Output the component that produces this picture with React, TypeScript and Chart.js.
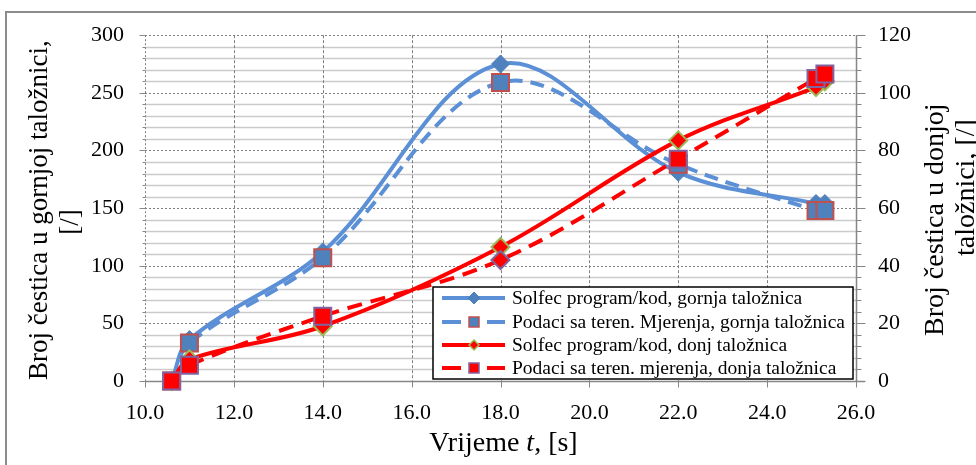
import React, { useEffect, useRef } from 'react';
import { Chart, registerables } from 'chart.js';

Chart.register(...registerables);

// Time points [s]
const timeSolfecGornja = [10.6, 11.0, 14.0, 18.0, 22.0, 25.1, 25.3];
const timeMjerenjaGornja = [10.6, 11.0, 14.0, 18.0, 22.0, 25.1, 25.3];
const timeSolfecDonja = [10.6, 11.0, 14.0, 18.0, 22.0, 25.1, 25.3];
const timeMjerenjaDonja = [10.6, 11.0, 14.0, 18.0, 22.0, 25.1, 25.3];

// Left axis values (gornja taložnica)
const solfecGornja = [0, 36, 112, 275, 181, 154, 154];
const mjerenjaGornja = [0, 33, 107, 259, 188, 148, 148];
// Right axis values (donja taložnica)
const solfecDonja = [0, 7.5, 19, 46.5, 83.5, 102, 104];
const mjerenjaDonja = [0, 5.5, 22.5, 42, 77, 105, 106.5];

const legendLabels = [
  'Solfec program/kod, gornja taložnica',
  'Podaci sa teren. Mjerenja, gornja taložnica',
  'Solfec program/kod, donj taložnica',
  'Podaci sa teren. mjerenja, donja taložnica',
];

const xTitleParts = ['Vrijeme ', 't', ', [s]'];
const leftTitle = ['Broj čestica u gornjoj taložnici,', '[/]'];
const rightTitle = ['Broj čestica u donjoj', 'taložnici, [/]'];

const SERIF = '"Liberation Serif", "Times New Roman", serif';
const BLUE_LINE = '#5B8FD6';
const BLUE_MARK = '#4F81BD';
const RED = '#FF0000';

const zip = (xs: number[], ys: number[]) => xs.map((x, i) => ({ x, y: ys[i] }));

function drawMarker(ctx: CanvasRenderingContext2D, style: string, x: number, y: number, r: number, fill: string, stroke: string, lw: number) {
  ctx.save();
  ctx.beginPath();
  if (style === 'rect') {
    ctx.rect(x - r, y - r, 2 * r, 2 * r);
  } else {
    ctx.moveTo(x - r, y);
    ctx.lineTo(x, y - r);
    ctx.lineTo(x + r, y);
    ctx.lineTo(x, y + r);
    ctx.closePath();
  }
  ctx.fillStyle = fill;
  ctx.fill();
  ctx.lineWidth = lw;
  ctx.strokeStyle = stroke;
  ctx.stroke();
  ctx.restore();
}

const decorPlugin = {
  id: 'decor',
  beforeDatasetsDraw(chart: any) {
    const { ctx, chartArea: a, scales } = chart;
    const xs = scales.x;
    const ys = scales.y;
    ctx.save();
    // minor horizontal grid
    for (let v = 10; v < 300; v += 10) {
      if (v % 50 === 0) continue;
      const py = Math.round(ys.getPixelForValue(v)) + 0.5;
      ctx.beginPath();
      ctx.strokeStyle = '#CBCBCB';
      ctx.lineWidth = 1.5;
      ctx.setLineDash([]);
      ctx.moveTo(a.left, py);
      ctx.lineTo(a.right, py);
      ctx.stroke();
    }
    // major horizontal grid (dotted)
    for (let v = 50; v <= 300; v += 50) {
      const py = Math.round(ys.getPixelForValue(v)) + 0.5;
      ctx.beginPath();
      ctx.strokeStyle = '#7F7F7F';
      ctx.lineWidth = 1;
      ctx.setLineDash([2, 2]);
      ctx.moveTo(a.left, py);
      ctx.lineTo(a.right, py);
      ctx.stroke();
    }
    // vertical grid (dotted)
    for (let t = 12; t < 26; t += 2) {
      const px = Math.round(xs.getPixelForValue(t)) + 0.5;
      ctx.beginPath();
      ctx.strokeStyle = '#7F7F7F';
      ctx.lineWidth = 1;
      ctx.setLineDash([3, 2]);
      ctx.moveTo(px, a.top);
      ctx.lineTo(px, a.bottom);
      ctx.stroke();
    }
    // left axis (dotted) with small ticks
    const lx = Math.round(a.left) + 0.5;
    ctx.beginPath();
    ctx.setLineDash([2, 2]);
    ctx.strokeStyle = '#7F7F7F';
    ctx.moveTo(lx, a.top);
    ctx.lineTo(lx, a.bottom);
    ctx.stroke();
    ctx.setLineDash([]);
    for (let v = 0; v <= 300; v += 10) {
      const py = Math.round(ys.getPixelForValue(v)) + 0.5;
      ctx.beginPath();
      ctx.strokeStyle = '#8A8A8A';
      ctx.moveTo(lx - (v % 50 === 0 ? 6 : 3), py);
      ctx.lineTo(lx, py);
      ctx.stroke();
    }
    // right axis (solid) with outward ticks
    const rx = Math.round(a.right) + 0.5;
    ctx.beginPath();
    ctx.strokeStyle = '#868686';
    ctx.lineWidth = 1.5;
    ctx.moveTo(rx, a.top);
    ctx.lineTo(rx, a.bottom);
    ctx.stroke();
    ctx.lineWidth = 1;
    for (let v = 0; v <= 300; v += 10) {
      const py = Math.round(ys.getPixelForValue(v)) + 0.5;
      ctx.beginPath();
      ctx.moveTo(rx, py);
      ctx.lineTo(rx + (v % 50 === 0 ? 9 : 5), py);
      ctx.stroke();
    }
    // x axis (solid) with ticks
    const by = Math.round(a.bottom) + 0.5;
    ctx.beginPath();
    ctx.strokeStyle = '#868686';
    ctx.lineWidth = 1.5;
    ctx.moveTo(a.left, by);
    ctx.lineTo(a.right + 9, by);
    ctx.stroke();
    ctx.lineWidth = 1;
    for (let t = 10; t <= 26; t += 2) {
      const px = Math.round(xs.getPixelForValue(t)) + 0.5;
      ctx.beginPath();
      ctx.moveTo(px, by);
      ctx.lineTo(px, by + 6);
      ctx.stroke();
    }
    ctx.restore();
  },
  afterDraw(chart: any) {
    const { ctx, chartArea: a } = chart;
    ctx.save();
    // outer border
    ctx.strokeStyle = '#8C8C8C';
    ctx.lineWidth = 2;
    ctx.strokeRect(6, 12, 985, 470);

    ctx.fillStyle = '#000';
    // x title with italic t
    const normal = `28px ${SERIF}`;
    const italic = `italic 28px ${SERIF}`;
    ctx.font = normal;
    const w0 = ctx.measureText(xTitleParts[0]).width;
    const w2 = ctx.measureText(xTitleParts[2]).width;
    ctx.font = italic;
    const w1 = ctx.measureText(xTitleParts[1]).width;
    const total = w0 + w1 + w2;
    let sx = (a.left + a.right) / 2 + 3 - total / 2;
    const ty = 451;
    ctx.textBaseline = 'alphabetic';
    ctx.textAlign = 'left';
    ctx.font = normal;
    ctx.fillText(xTitleParts[0], sx, ty);
    sx += w0;
    ctx.font = italic;
    ctx.fillText(xTitleParts[1], sx, ty);
    sx += w1;
    ctx.font = normal;
    ctx.fillText(xTitleParts[2], sx, ty);

    // left title
    const cy = (a.top + a.bottom) / 2 + 2;
    ctx.font = `27px ${SERIF}`;
    ctx.textAlign = 'center';
    [47, 78].forEach((bx, i) => {
      ctx.save();
      ctx.translate(bx, i === 0 ? cy : cy + 12);
      ctx.rotate(-Math.PI / 2);
      ctx.fillText(leftTitle[i], 0, 0);
      ctx.restore();
    });
    // right title
    ctx.font = `28px ${SERIF}`;
    ctx.textAlign = 'left';
    [[943, 336], [974, 256]].forEach(([bx, by], i) => {
      ctx.save();
      ctx.translate(bx, by);
      ctx.rotate(-Math.PI / 2);
      ctx.fillText(rightTitle[i], 0, 0);
      ctx.restore();
    });

    // legend
    const L = 433, T = 287, R = 853, B = 379;
    ctx.fillStyle = '#fff';
    ctx.fillRect(L, T, R - L, B - T);
    ctx.strokeStyle = '#000';
    ctx.lineWidth = 1.5;
    ctx.strokeRect(L, T, R - L, B - T);
    const rows = [298, 322, 345, 368];
    const specs = [
      { color: BLUE_LINE, dashed: false, style: 'rectRot', r: 6, fill: BLUE_MARK, stroke: BLUE_MARK, lw: 1 },
      { color: BLUE_LINE, dashed: true, style: 'rect', r: 5, fill: BLUE_MARK, stroke: '#C0504D', lw: 1.5 },
      { color: RED, dashed: false, style: 'rectRot', r: 5, fill: RED, stroke: '#9BBB59', lw: 1.5 },
      { color: RED, dashed: true, style: 'rect', r: 5, fill: RED, stroke: '#8064A2', lw: 1.5 },
    ];
    specs.forEach((s, i) => {
      const y = rows[i];
      ctx.strokeStyle = s.color;
      ctx.lineWidth = 4;
      ctx.lineCap = 'butt';
      ctx.beginPath();
      if (s.dashed) {
        ctx.moveTo(442, y); ctx.lineTo(461, y);
        ctx.moveTo(487, y); ctx.lineTo(505, y);
      } else {
        ctx.moveTo(442, y); ctx.lineTo(505, y);
      }
      ctx.stroke();
      drawMarker(ctx, s.style, 474, y, s.r, s.fill, s.stroke, s.lw);
      ctx.fillStyle = '#000';
      ctx.font = `19.5px ${SERIF}`;
      ctx.textAlign = 'left';
      ctx.textBaseline = 'middle';
      ctx.fillText(legendLabels[i], 512, y + 1);
    });
    ctx.restore();
  },
};

export default function App() {
  const ref = useRef<HTMLCanvasElement>(null);
  useEffect(() => {
    document.body.style.margin = '0';
    const canvas = ref.current!;
    const tickFont = { family: SERIF, size: 22 };
    const chart = new Chart(canvas, {
      type: 'line',
      data: {
        datasets: [
          {
            label: legendLabels[0],
            data: zip(timeSolfecGornja, solfecGornja),
            yAxisID: 'y',
            borderColor: BLUE_LINE,
            borderWidth: 4,
            tension: 0.35,
            pointStyle: 'rectRot',
            pointRadius: 9,
            pointBackgroundColor: BLUE_MARK,
            pointBorderColor: BLUE_MARK,
            pointBorderWidth: 1,
            clip: false as any,
            order: 4,
          },
          {
            label: legendLabels[1],
            data: zip(timeMjerenjaGornja, mjerenjaGornja),
            yAxisID: 'y',
            borderColor: BLUE_LINE,
            borderWidth: 4,
            borderDash: [14, 8],
            tension: 0.35,
            pointStyle: 'rect',
            pointRadius: 12,
            pointBackgroundColor: BLUE_MARK,
            pointBorderColor: '#C0504D',
            pointBorderWidth: 2,
            clip: false as any,
            order: 3,
          },
          {
            label: legendLabels[2],
            data: zip(timeSolfecDonja, solfecDonja),
            yAxisID: 'y1',
            borderColor: RED,
            borderWidth: 4,
            tension: 0.35,
            pointStyle: 'rectRot',
            pointRadius: 9,
            pointBackgroundColor: RED,
            pointBorderColor: '#9BBB59',
            pointBorderWidth: 2,
            clip: false as any,
            order: 2,
          },
          {
            label: legendLabels[3],
            data: zip(timeMjerenjaDonja, mjerenjaDonja),
            yAxisID: 'y1',
            borderColor: RED,
            borderWidth: 4,
            borderDash: [15, 9],
            tension: 0.35,
            pointStyle: ['rect', 'rect', 'rect', 'rectRot', 'rect', 'rect', 'rect'],
            pointRadius: [12, 12, 12, 9, 12, 12, 12],
            pointBackgroundColor: RED,
            pointBorderColor: '#8064A2',
            pointBorderWidth: 2,
            clip: false as any,
            order: 1,
          },
        ],
      },
      options: {
        responsive: false,
        maintainAspectRatio: false,
        animation: false,
        devicePixelRatio: 1,
        layout: { padding: { top: 33, left: 0, right: 0, bottom: 0 } },
        plugins: { legend: { display: false }, tooltip: { enabled: false } },
        scales: {
          x: {
            type: 'linear',
            min: 10,
            max: 26,
            ticks: { stepSize: 2, callback: (v: any) => Number(v).toFixed(1), font: tickFont, color: '#000', padding: 19, maxRotation: 0, autoSkip: false },
            grid: { display: false, drawTicks: false },
            border: { display: false },
            afterFit: (s: any) => { s.height = 84; },
          },
          y: {
            position: 'left',
            min: 0,
            max: 300,
            ticks: { stepSize: 50, font: tickFont, color: '#000', padding: 21 },
            grid: { display: false, drawTicks: false },
            border: { display: false },
            afterFit: (s: any) => { s.width = 145; },
          },
          y1: {
            position: 'right',
            min: 0,
            max: 120,
            ticks: { stepSize: 20, font: tickFont, color: '#000', padding: 22 },
            grid: { display: false, drawTicks: false },
            border: { display: false },
            afterFit: (s: any) => { s.width = 120; },
          },
        },
      } as any,
      plugins: [decorPlugin],
    });
    return () => chart.destroy();
  }, []);
  return (
    <div style={{ position: 'absolute', left: 0, top: 0, width: 976, height: 465, background: '#fff', overflow: 'hidden' }}>
      <canvas ref={ref} width={976} height={465} style={{ width: 976, height: 465, display: 'block' }} />
    </div>
  );
}
